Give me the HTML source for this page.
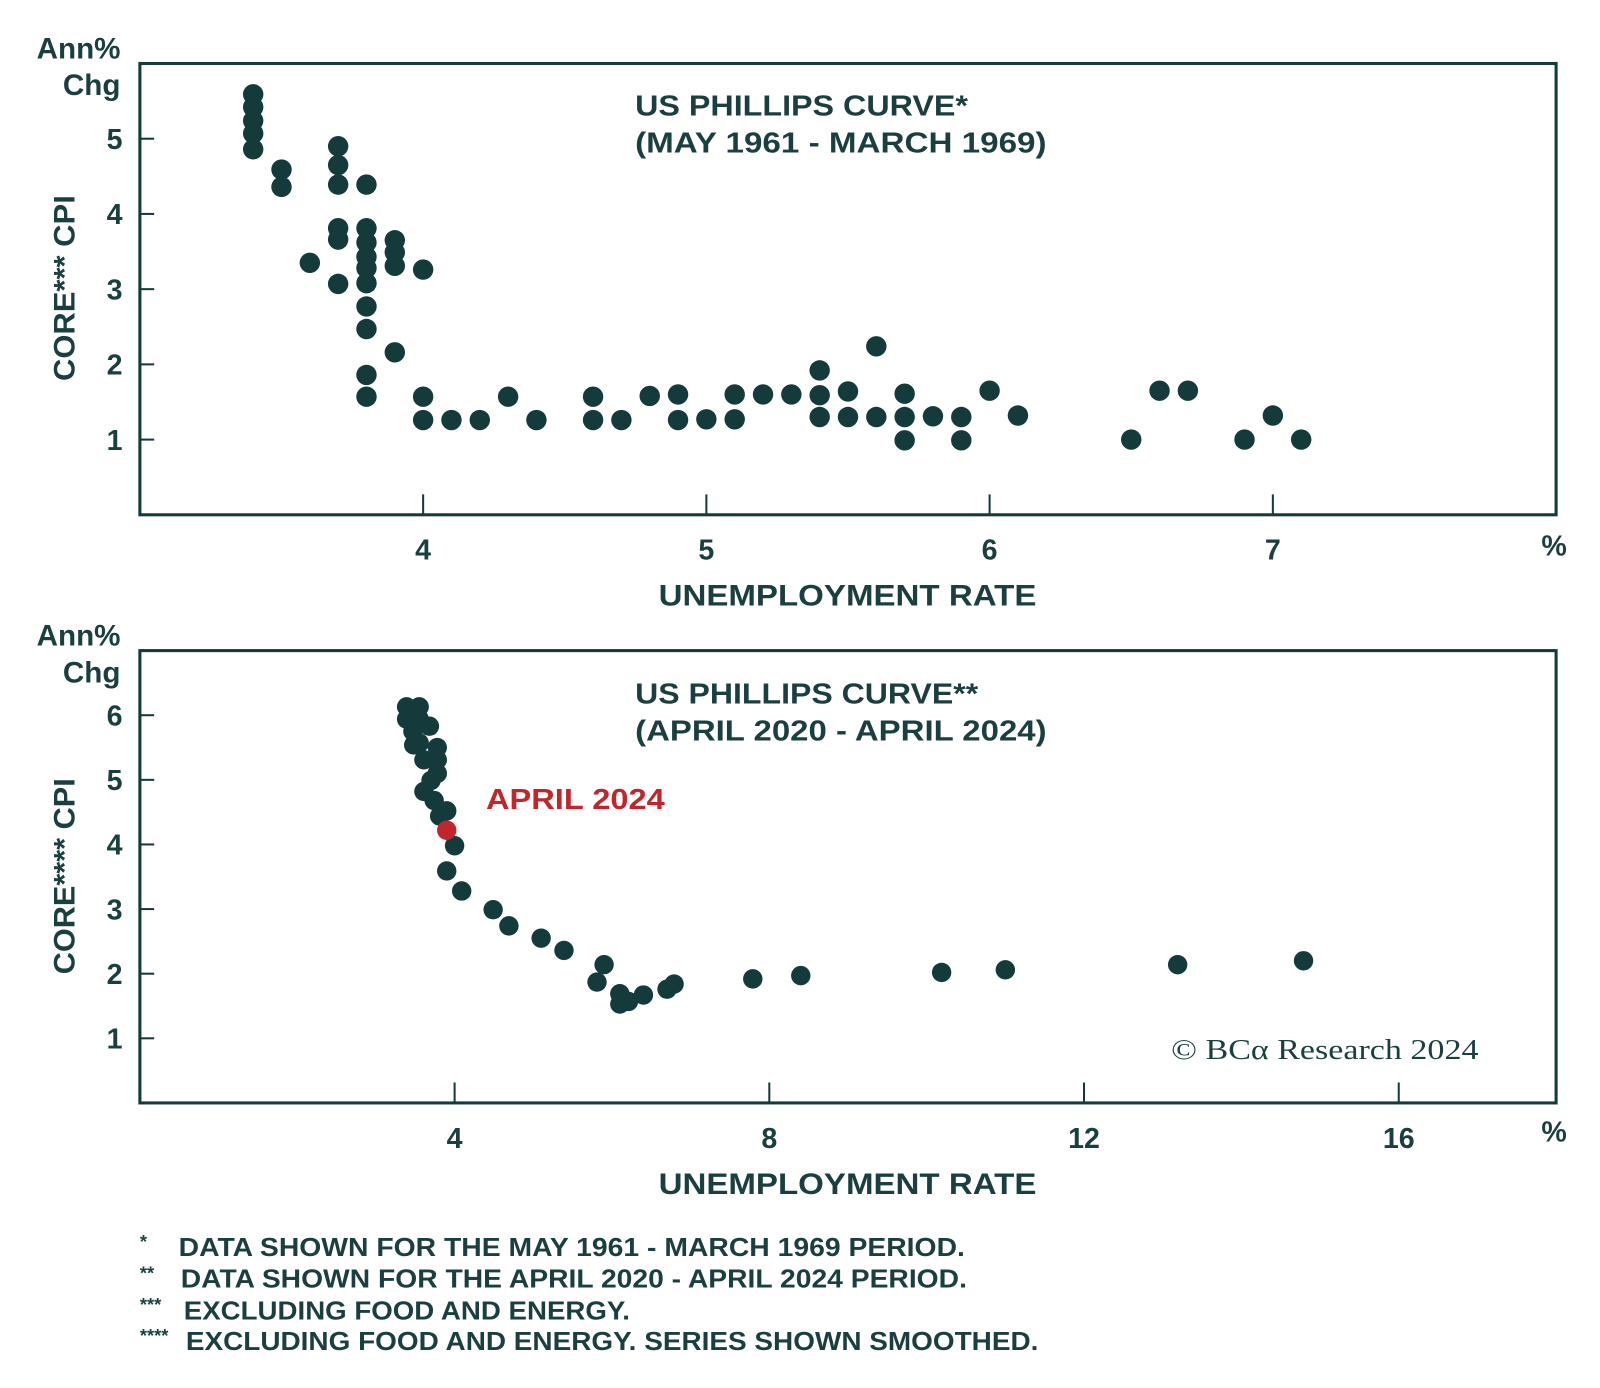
<!DOCTYPE html>
<html><head><meta charset="utf-8"><style>
html,body{margin:0;padding:0;background:#fff}
svg{display:block}
text{font-family:"Liberation Sans",sans-serif;fill:#1b3f40}
</style></head><body>
<svg id="c" width="1600" height="1388" viewBox="0 0 1567 1359"></svg>
<script>
// Top panel data (1961-1969)
const topX = [3.4,3.4,3.4,3.4,3.4,3.5,3.5,3.7,3.7,3.7,3.7,3.7,3.7,3.8,3.8,3.8,3.8,3.8,3.8,3.8,3.8,3.8,3.8,3.6,3.9,3.9,3.9,3.9,4.0,4.0,4.0,4.1,4.2,4.3,4.4,4.6,4.6,4.7,4.8,4.9,4.9,5.0,5.1,5.1,5.2,5.3,5.4,5.4,5.4,5.5,5.5,5.6,5.6,5.7,5.7,5.7,5.8,5.9,5.9,6.0,6.1,6.5,6.6,6.7,6.9,7.0,7.1];
const topY = [5.59,5.42,5.24,5.07,4.86,4.59,4.36,4.9,4.65,4.39,3.81,3.66,3.07,4.39,3.81,3.62,3.43,3.28,3.08,2.77,2.47,1.86,1.57,3.35,3.65,3.49,3.31,2.16,3.26,1.57,1.26,1.26,1.26,1.57,1.26,1.57,1.26,1.26,1.58,1.6,1.26,1.27,1.6,1.27,1.6,1.6,1.92,1.59,1.3,1.64,1.3,2.24,1.3,1.61,1.3,0.99,1.31,1.3,0.99,1.65,1.32,1.0,1.65,1.65,1.0,1.32,1.0];
const topXTicks = [4,5,6,7];
const topYTicks = [1,2,3,4,5];
// Bottom panel data (2020-2024)
const botX = [3.39,3.55,3.39,3.55,3.47,3.68,3.55,3.48,3.61,3.78,3.78,3.78,3.70,3.61,3.74,3.81,3.90,4.0,3.90,4.09,4.49,4.69,5.10,5.39,5.90,5.81,6.10,6.10,6.21,6.40,6.70,6.79,7.79,8.40,10.19,11.0,13.19,14.79];
const botY = [6.13,6.13,5.94,5.94,5.75,5.83,5.57,5.54,5.31,5.50,5.31,5.10,4.99,4.82,4.68,4.44,4.52,3.98,3.59,3.28,2.99,2.74,2.55,2.36,2.14,1.87,1.53,1.69,1.57,1.67,1.76,1.84,1.92,1.97,2.02,2.06,2.14,2.20];
const latestX = [3.90];
const latestY = [4.22];
const botXTicks = [4,8,12,16];
const botYTicks = [1,2,3,4,5,6];

const svg = document.getElementById('c');
const NS = 'http://www.w3.org/2000/svg';
const C = '#143a3c';
function mk(tag, a, txt){const e=document.createElementNS(NS,tag);for(const k in a)e.setAttribute(k,a[k]);if(txt!=null)e.textContent=txt;svg.appendChild(e);return e;}

function panel(p){
  const L=137,R=1524;
  const sx=v=>L+(v-p.x0)/(p.x1-p.x0)*(R-L);
  const sy=v=>p.B-(v-p.y0)/(p.y1-p.y0)*(p.B-p.T);
  const fr=mk('rect',{x:L,y:p.T,width:R-L,height:p.B-p.T,fill:'none',stroke:C,'stroke-width':3});
  
  
  p.yt.forEach(v=>{
    const t=mk('line',{x1:L,x2:L+14,y1:sy(v),y2:sy(v),stroke:C,'stroke-width':2});
    
    
    const l=mk('text',{x:120,y:sy(v)+10,'text-anchor':'end','font-size':28,'font-weight':'bold'},v);
    
    
  });
  p.xt.forEach(v=>{
    const t=mk('line',{x1:sx(v),x2:sx(v),y1:p.B,y2:p.B-20,stroke:C,'stroke-width':2});
    
    
    const l=mk('text',{x:sx(v),y:p.B+44,'text-anchor':'middle','font-size':28,'font-weight':'bold'},v);
    
    
  });
  p.xs.forEach((v,i)=>{
    const d=mk('circle',{cx:sx(v),cy:sy(p.ys[i]),r:p.r,fill:C});
    
    
  });
  if(p.hx){p.hx.forEach((v,i)=>{
    const d=mk('circle',{cx:sx(v),cy:sy(p.hy[i]),r:p.r,fill:'#c0262c'});
    
    
  });}
}
panel({n:'top',x0:3,x1:8,y0:0,y1:6,T:62,B:504,xt:topXTicks,yt:topYTicks,xs:topX,ys:topY,r:10});
panel({n:'bottom',x0:0,x1:18,y0:0,y1:7,T:637,B:1080,xt:botXTicks,yt:botYTicks,xs:botX,ys:botY,hx:latestX,hy:latestY,r:9.5});
</script>
<svg width="1600" height="1388" viewBox="0 0 1567 1359" style="position:absolute;left:0;top:0">
<g font-weight="bold">
<text x="118" y="57" text-anchor="end" font-size="29">Ann%</text>
<text x="118" y="93" text-anchor="end" font-size="29">Chg</text>
<text transform="translate(73,282) rotate(-90)" text-anchor="middle" font-size="29" textLength="182" lengthAdjust="spacingAndGlyphs">CORE*** CPI</text>
<text x="622" y="113" font-size="28" textLength="326" lengthAdjust="spacingAndGlyphs">US PHILLIPS CURVE*</text>
<text x="622" y="149" font-size="28" textLength="403" lengthAdjust="spacingAndGlyphs">(MAY 1961 - MARCH 1969)</text>
<text x="1522" y="544" text-anchor="middle" font-size="28">%</text>
<text x="645" y="593" font-size="29" textLength="370" lengthAdjust="spacingAndGlyphs">UNEMPLOYMENT RATE</text>
<text x="118" y="632" text-anchor="end" font-size="29">Ann%</text>
<text x="118" y="668" text-anchor="end" font-size="29">Chg</text>
<text transform="translate(73,858) rotate(-90)" text-anchor="middle" font-size="29" textLength="192" lengthAdjust="spacingAndGlyphs">CORE**** CPI</text>
<text x="622" y="689" font-size="28" textLength="336" lengthAdjust="spacingAndGlyphs">US PHILLIPS CURVE**</text>
<text x="622" y="725" font-size="28" textLength="403" lengthAdjust="spacingAndGlyphs">(APRIL 2020 - APRIL 2024)</text>
<text x="476" y="792" font-size="28" textLength="175" lengthAdjust="spacingAndGlyphs" style="fill:#c0262c">APRIL 2024</text>
<text x="1522" y="1118" text-anchor="middle" font-size="28">%</text>
<text x="645" y="1169" font-size="29" textLength="370" lengthAdjust="spacingAndGlyphs">UNEMPLOYMENT RATE</text>
</g>
<text x="1147" y="1037" font-size="28" textLength="301" lengthAdjust="spacingAndGlyphs" style="font-family:'Liberation Serif',serif">© BCα Research 2024</text>
<g font-size="25" font-weight="bold">
<text x="137" y="1222" font-size="18">*</text>
<text x="175" y="1230" textLength="770" lengthAdjust="spacingAndGlyphs">DATA SHOWN FOR THE MAY 1961 - MARCH 1969 PERIOD.</text>
<text x="137" y="1253" font-size="18">**</text>
<text x="177" y="1261" textLength="770" lengthAdjust="spacingAndGlyphs">DATA SHOWN FOR THE APRIL 2020 - APRIL 2024 PERIOD.</text>
<text x="137" y="1284" font-size="18">***</text>
<text x="180" y="1292" textLength="437" lengthAdjust="spacingAndGlyphs">EXCLUDING FOOD AND ENERGY.</text>
<text x="137" y="1314" font-size="18">****</text>
<text x="182" y="1322" textLength="835" lengthAdjust="spacingAndGlyphs">EXCLUDING FOOD AND ENERGY. SERIES SHOWN SMOOTHED.</text>
</g>
</svg>
</body></html>
